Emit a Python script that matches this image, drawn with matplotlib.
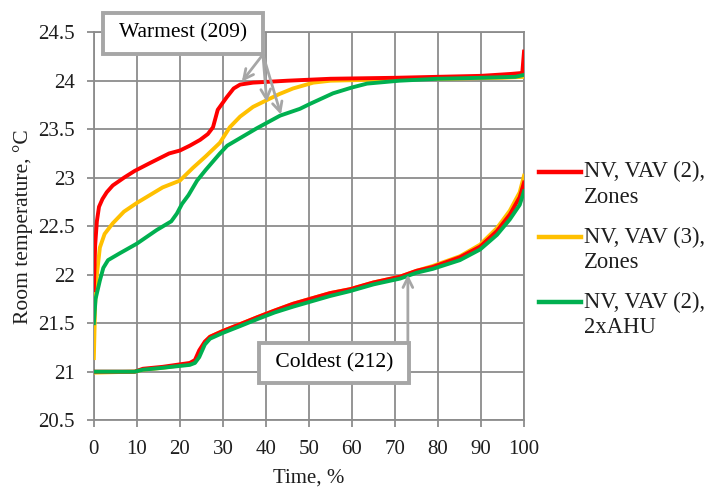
import matplotlib
matplotlib.use('Agg')
import matplotlib.pyplot as plt
from matplotlib.legend_handler import HandlerLine2D

# Warmest-room curves (time %, temperature °C)
red_warm_x = [0, 0.3, 0.7, 1.2, 2, 3, 4.4, 7, 9.5, 13, 17.5, 20, 22.3, 24.7, 26.5, 27.7,
              28.8, 30.9, 32.5, 34, 37, 45, 55, 70, 80, 90, 97, 99.6, 100]
red_warm_y = [21.84, 22.3, 22.55, 22.7, 22.78, 22.85, 22.92, 23.0, 23.07, 23.15, 23.25, 23.28,
              23.33, 23.39, 23.45, 23.52, 23.70, 23.83, 23.92, 23.96, 23.98, 24.0, 24.02, 24.03,
              24.04, 24.05, 24.07, 24.08, 24.3]

yel_warm_x = [0, 0.3, 0.7, 1.4, 2.5, 4.4, 7, 10, 13, 16, 20, 23, 26, 29.3, 31.6, 34, 37, 40.2,
              43, 46.3, 51, 55, 65, 80, 95, 100]
yel_warm_y = [21.14, 21.7, 22.0, 22.28, 22.42, 22.53, 22.65, 22.74, 22.82, 22.9, 22.97, 23.1,
              23.22, 23.36, 23.52, 23.63, 23.73, 23.80, 23.86, 23.92, 23.98, 24.0, 24.01, 24.02,
              24.03, 24.04]

grn_warm_x = [0, 0.4, 1.4, 2.2, 3.3, 6, 10, 14.6, 18, 19.3, 20.5, 22, 24, 26, 29.3, 31, 33.3,
              37.9, 43.3, 47.9, 50.2, 55.6, 60, 63.5, 71, 80, 90, 98, 100]
grn_warm_y = [21.5, 21.75, 21.94, 22.07, 22.15, 22.22, 22.32, 22.46, 22.55, 22.63, 22.73, 22.82,
              22.97, 23.08, 23.25, 23.33, 23.39, 23.51, 23.64, 23.71, 23.76, 23.87, 23.93, 23.97,
              24.0, 24.02, 24.03, 24.04, 24.06]

# Coldest-room curves
cold_x = [0, 9.5, 11.4, 16, 22.3, 23.5, 24.5, 25.8, 27, 30, 34, 37.9, 42, 46.3, 54.9, 59.5,
          65, 71.2, 75, 78.8, 85.1, 89.8, 93.7, 96.7, 99, 100]
red_cold_y = [21.0, 21.0, 21.03, 21.05, 21.09, 21.12, 21.22, 21.31, 21.36, 21.42, 21.49, 21.56,
              21.63, 21.70, 21.81, 21.85, 21.92, 21.98, 22.04, 22.08, 22.18, 22.29, 22.45, 22.62,
              22.8, 22.95]
yel_cold_y = [20.99, 21.0, 21.02, 21.04, 21.08, 21.11, 21.18, 21.30, 21.36, 21.42, 21.49, 21.56,
              21.63, 21.70, 21.81, 21.85, 21.92, 21.98, 22.04, 22.09, 22.19, 22.31, 22.48, 22.66,
              22.85, 23.02]
grn_cold_y = [21.0, 21.0, 21.02, 21.04, 21.07, 21.09, 21.15, 21.28, 21.34, 21.40, 21.47, 21.54,
              21.61, 21.67, 21.78, 21.83, 21.90, 21.96, 22.02, 22.06, 22.15, 22.26, 22.41, 22.57,
              22.72, 22.86]

labels = ['NV, VAV (2),\nZones', 'NV, VAV (3),\nZones', 'NV, VAV (2),\n2xAHU']
colors = ['#FF0000', '#FFC000', '#00B050']

plt.rcParams['font.family'] = ['Liberation Serif', 'DejaVu Serif']
GRID = '#8C8C8C'
TXT = '#1E1E1E'


class FirstLineHandler(HandlerLine2D):
    """Legend line drawn level with the first line of a two-line label."""
    def create_artists(self, *args, **kwargs):
        artists = super().create_artists(*args, **kwargs)
        for a in artists:
            a.set_ydata([y + 9.5 for y in a.get_ydata()])
        return artists


fig = plt.figure(figsize=(7.11, 4.88), dpi=100)
ax = fig.add_axes([0.132, 0.139, 0.605, 0.795])

lw = 2.8
ax.plot(yel_warm_x, yel_warm_y, color=colors[1], lw=lw, zorder=3)
ax.plot(cold_x, yel_cold_y, color=colors[1], lw=lw, zorder=3)
ax.plot(red_warm_x, red_warm_y, color=colors[0], lw=lw, zorder=4)
ax.plot(cold_x, red_cold_y, color=colors[0], lw=lw, zorder=4)
ax.plot(grn_warm_x, grn_warm_y, color=colors[2], lw=lw, zorder=5)
ax.plot(cold_x, grn_cold_y, color=colors[2], lw=lw, zorder=5)

ax.set_xlim(0, 100)
ax.set_ylim(20.5, 24.5)
ax.set_xticks(range(0, 101, 10))
ax.set_yticks([20.5, 21, 21.5, 22, 22.5, 23, 23.5, 24, 24.5])
ax.set_yticklabels(['20.5', '21', '21.5', '22', '22.5', '23', '23.5', '24', '24.5'])
ax.grid(True, color=GRID, lw=1.3)
for s in ax.spines.values():
    s.set_color(GRID)
    s.set_linewidth(1.3)
ax.tick_params(colors=GRID, labelcolor=TXT, labelsize=15, width=1.3, length=5)
ax.tick_params(axis='x', pad=9)
ax.tick_params(axis='y', pad=8.5)
ax.set_xlabel('Time, %', fontsize=15, color=TXT, labelpad=7)
ax.set_ylabel('Room temperature, °C', fontsize=15.5, color=TXT, labelpad=4)

# annotations
box = dict(boxstyle='square,pad=0.5', fc='white', ec='#A6A6A6', lw=2.8)
arrow = dict(arrowstyle='->,head_length=0.7,head_width=0.35', color='#A6A6A6', lw=2,
             shrinkA=0, shrinkB=0)
ax.text(20.8, 24.49, ' Warmest (209) ', fontsize=15.5, ha='center', va='center',
        bbox=box, zorder=10, clip_on=False)
for tx, ty in [(34.4, 23.99), (40.2, 23.78), (43.5, 23.65)]:
    ax.annotate('', xy=(tx, ty), xytext=(39.3, 24.27), arrowprops=arrow, zorder=9,
                annotation_clip=False)
ax.text(55.8, 21.09, ' Coldest (212) ', fontsize=15.5, ha='center', va='center',
        bbox=box, zorder=10)
ax.annotate('', xy=(73, 22.0), xytext=(73, 21.3), arrowprops=arrow, zorder=9)

handles = [plt.Line2D([], [], color=c, lw=3.2) for c in colors]
leg = fig.legend(handles, labels, loc='center left', bbox_to_anchor=(0.746, 0.488),
                 frameon=False, fontsize=16.3, handlelength=1.85, handletextpad=0.1,
                 labelspacing=0.8, borderaxespad=0,
                 handler_map={plt.Line2D: FirstLineHandler()})
for t in leg.get_texts():
    t.set_linespacing(1.3)
    t.set_color(TXT)

fig.savefig('out.png', dpi=100)
